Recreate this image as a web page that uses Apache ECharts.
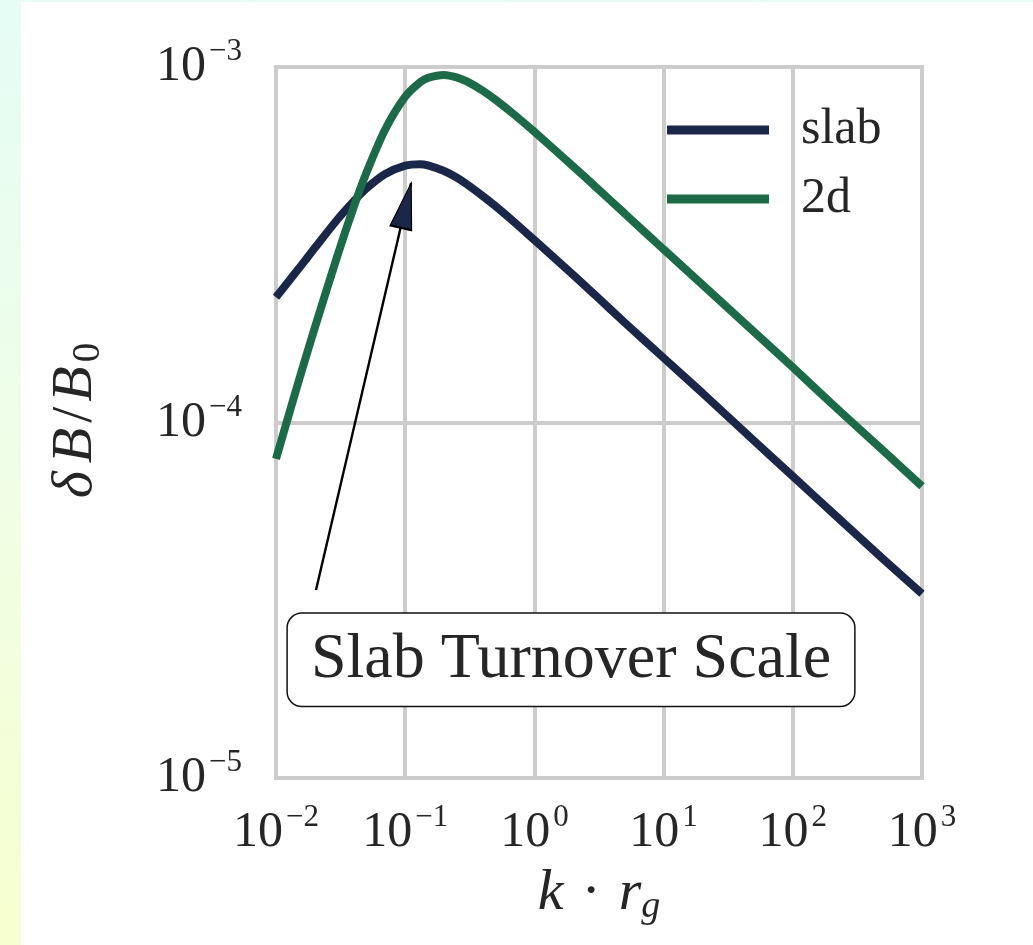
<!DOCTYPE html>
<html>
<head>
<meta charset="utf-8">
<script src="https://cdn.jsdelivr.net/npm/echarts@6/dist/echarts.min.js"></script>
<style>
  html, body { margin: 0; padding: 0; width: 1033px; height: 945px; overflow: hidden; }
  body { background: linear-gradient(to bottom, #e6fdf6 0%, #effee6 50%, #f7ffcf 100%); }
  #paper { position: absolute; left: 21px; top: 2px; right: 0; bottom: 0; background: #ffffff; }
  #chart { position: absolute; left: 0; top: 0; width: 1033px; height: 945px; }
</style>
</head>
<body>
<div id="paper"></div>
<div id="chart"></div>
<script>
// Wavenumber samples (k · r_g)
const kValues = [0.01, 0.015, 0.02, 0.03, 0.04, 0.05, 0.07, 0.1, 0.13, 0.15, 0.2, 0.25, 0.3, 0.4, 0.5, 0.7,
                 1, 2, 3, 5, 10, 20, 50, 100, 200, 500, 1000];
// δB/B0 for the slab component
const slabValues = [2.25e-4, 2.71e-4, 3.10e-4, 3.73e-4, 4.19e-4, 4.55e-4, 5.00e-4, 5.28e-4, 5.33e-4, 5.29e-4,
                    5.10e-4, 4.89e-4, 4.68e-4, 4.33e-4, 4.06e-4, 3.66e-4, 3.26e-4, 2.60e-4, 2.27e-4,
                    1.91e-4, 1.52e-4, 1.21e-4, 8.89e-5, 7.06e-5, 5.60e-5, 4.13e-5, 3.30e-5];
// δB/B0 for the 2d component
const twoDValues = [7.90e-5, 1.31e-4, 1.85e-4, 2.96e-4, 4.04e-4, 5.03e-4, 6.67e-4, 8.25e-4, 9.05e-4, 9.32e-4,
                    9.50e-4, 9.35e-4, 9.11e-4, 8.57e-4, 8.09e-4, 7.34e-4, 6.57e-4, 5.25e-4, 4.59e-4,
                    3.87e-4, 3.07e-4, 2.44e-4, 1.80e-4, 1.43e-4, 1.13e-4, 8.34e-5, 6.62e-5];
const seriesNames = ['slab', '2d'];
const seriesColors = ['#1b2748', '#1c6a48'];
// Decade exponents shown as tick labels
const xTickExponents = [-2, -1, 0, 1, 2, 3];
const yTickExponents = [-5, -4, -3];
// Annotation: arrow from the note towards the slab peak
const arrowTail = [0.0204, 3.38e-5];
const arrowTip = [0.111, 4.72e-4];
const noteAt = [1.92, 2.15e-5];
const noteText = 'Slab Turnover Scale';

const SERIF = "'Liberation Serif', 'DejaVu Serif', serif";
const TXT = '#262626';
const GRID = '#cccccc';

function zip(xs, ys) { return xs.map((x, i) => [x, ys[i]]); }

function powerLabel(exps) {
  return function (v) {
    const e = Math.round(Math.log10(v));
    if (!exps.includes(e)) return '';
    return '{b|10}{s|' + (e < 0 ? '\u2212' : '') + Math.abs(e) + '}';
  };
}

const tickRich = {
  b: { fontSize: 50, fontFamily: SERIF, color: TXT },
  s: { fontSize: 31, fontFamily: SERIF, color: TXT, padding: [0, 0, 30, 3] }
};

const chart = echarts.init(document.getElementById('chart'), null, { renderer: 'canvas' });

chart.setOption({
  backgroundColor: 'transparent',
  animation: false,
  grid: {
    show: true, left: 276, top: 67, width: 646, height: 711,
    borderColor: GRID, borderWidth: 4, backgroundColor: 'transparent'
  },
  legend: {
    data: seriesNames,
    orient: 'vertical',
    left: 662, top: 100,
    icon: 'rect',
    itemWidth: 102, itemHeight: 9, itemGap: 19,
    textStyle: { fontSize: 50, fontFamily: SERIF, color: TXT, lineHeight: 50, padding: [0, 0, 0, 27] }
  },
  xAxis: {
    type: 'log', logBase: 10, min: 0.01, max: 1000, splitNumber: 5,
    axisLine: { show: false }, axisTick: { show: false },
    splitLine: { show: true, lineStyle: { color: GRID, width: 4 } },
    axisLabel: { margin: 24, formatter: powerLabel(xTickExponents), rich: tickRich },
    name: '{i|k}{m|\u00b7}{i|r}{sub|g}',
    nameLocation: 'middle', nameGap: 84,
    nameTextStyle: {
      rich: {
        i: { fontSize: 58, fontFamily: SERIF, fontStyle: 'italic', color: TXT },
        m: { fontSize: 58, fontFamily: SERIF, color: TXT, padding: [0, 18, 0, 18] },
        sub: { fontSize: 38, fontFamily: SERIF, fontStyle: 'italic', color: TXT, padding: [26, 0, 0, 0] }
      }
    }
  },
  yAxis: {
    type: 'log', logBase: 10, min: 1e-5, max: 1e-3, splitNumber: 2,
    axisLine: { show: false }, axisTick: { show: false },
    splitLine: { show: true, lineStyle: { color: GRID, width: 4 } },
    axisLabel: { margin: 34, formatter: powerLabel(yTickExponents), rich: tickRich },
    name: '{i|\u03b4}{i|B}{u|/}{i|B}{sub|0}',
    nameLocation: 'middle', nameRotate: 90, nameGap: 168,
    nameTextStyle: {
      rich: {
        i: { fontSize: 58, fontFamily: SERIF, fontStyle: 'italic', color: TXT, padding: [0, 4, 0, 4] },
        u: { fontSize: 58, fontFamily: SERIF, color: TXT, padding: [0, 1, 0, 1] },
        sub: { fontSize: 39, fontFamily: SERIF, color: TXT, padding: [26, 0, 0, 0] }
      }
    }
  },
  series: [
    {
      name: seriesNames[0], type: 'line', data: zip(kValues, slabValues),
      smooth: 0.3, symbol: 'none', z: 3,
      lineStyle: { color: seriesColors[0], width: 8 }, itemStyle: { color: seriesColors[0] }
    },
    {
      name: seriesNames[1], type: 'line', data: zip(kValues, twoDValues),
      smooth: 0.3, symbol: 'none', z: 3,
      lineStyle: { color: seriesColors[1], width: 8 }, itemStyle: { color: seriesColors[1] }
    },
    {
      name: 'arrowShaft', type: 'line', data: [arrowTail, arrowTip],
      symbol: 'none', silent: true, z: 4,
      lineStyle: { color: '#000000', width: 2.4 }
    },
    {
      name: 'arrowHead', type: 'scatter', data: [arrowTip],
      symbol: 'triangle', symbolSize: [22, 46], symbolRotate: -13, symbolOffset: [-5, 22.5],
      silent: true, z: 5,
      itemStyle: { color: seriesColors[0], borderColor: '#000000', borderWidth: 1.5, opacity: 1 }
    },
    {
      name: 'note', type: 'scatter', data: [noteAt],
      symbol: 'circle', symbolSize: 1, silent: true, z: 6,
      itemStyle: { color: 'rgba(0,0,0,0)', opacity: 1 },
      label: {
        show: true, position: 'inside', formatter: noteText, opacity: 1,
        fontSize: 64, fontFamily: SERIF, color: TXT, lineHeight: 72,
        backgroundColor: '#ffffff', borderColor: '#111111', borderWidth: 1.5, borderRadius: 14,
        padding: [10, 23, 10, 23]
      }
    }
  ]
});
</script>
</body>
</html>
